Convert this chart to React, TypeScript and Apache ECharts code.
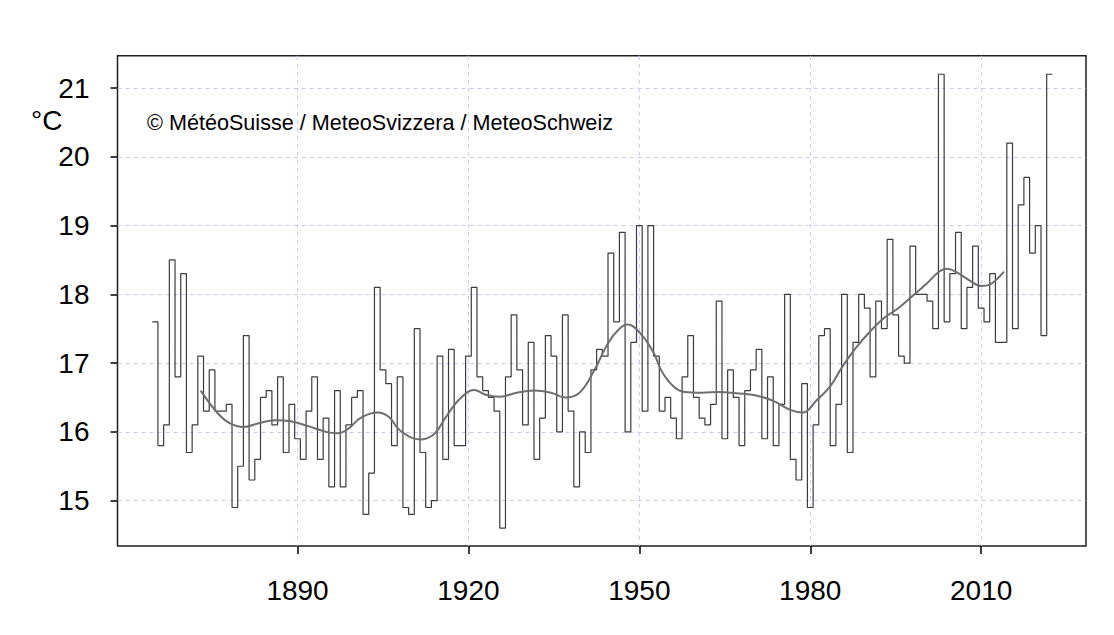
import React, { useEffect, useRef } from "react";
import * as echarts from "echarts";

const FONT = '"Liberation Sans", Arial, Helvetica, sans-serif';

// Annual values, one per year starting at firstYear
const firstYear = 1865;
const tempValues = [
  17.6, 15.8, 16.1, 18.5, 16.8, 18.3, 15.7, 16.1, 17.1, 16.3, // 1865-1874
  16.9, 16.3, 16.3, 16.4, 14.9, 15.5, 17.4, 15.3, 15.6, 16.5, // 1875-1884
  16.6, 16.1, 16.8, 15.7, 16.4, 15.9, 15.6, 16.3, 16.8, 15.6, // 1885-1894
  16.2, 15.2, 16.6, 15.2, 16.1, 16.5, 16.6, 14.8, 15.4, 18.1, // 1895-1904
  16.9, 16.7, 15.8, 16.8, 14.9, 14.8, 17.5, 15.7, 14.9, 15.0, // 1905-1914
  17.1, 15.6, 17.2, 15.8, 15.8, 17.1, 18.1, 16.8, 16.6, 16.5, // 1915-1924
  16.3, 14.6, 16.8, 17.7, 16.9, 16.1, 17.3, 15.6, 16.2, 17.4, // 1925-1934
  17.1, 16.0, 17.7, 16.3, 15.2, 16.0, 15.7, 16.9, 17.2, 17.1, // 1935-1944
  18.6, 17.6, 18.9, 16.0, 17.3, 19.0, 16.3, 19.0, 17.1, 16.3, // 1945-1954
  16.5, 16.2, 15.9, 16.8, 17.4, 16.5, 16.2, 16.1, 16.4, 17.9, // 1955-1964
  15.9, 16.9, 16.5, 15.8, 16.6, 16.9, 17.2, 15.9, 16.8, 15.8, // 1965-1974
  16.4, 18.0, 15.6, 15.3, 16.7, 14.9, 16.1, 17.4, 17.5, 15.8, // 1975-1984
  16.4, 18.0, 15.7, 17.3, 18.0, 17.8, 16.8, 17.9, 17.5, 18.8, // 1985-1994
  17.7, 17.1, 17.0, 18.7, 18.0, 18.0, 17.9, 17.5, 21.2, 17.6, // 1995-2004
  18.3, 18.9, 17.5, 18.1, 18.7, 17.8, 17.6, 18.3, 17.3, 17.3, // 2005-2014
  20.2, 17.5, 19.3, 19.7, 18.6, 19.0, 17.4, 21.2,             // 2015-2022
];

// Smoothed curve
const smoothYears = [
  1873, 1876, 1878, 1880.5, 1883, 1886, 1889, 1892, 1895, 1897, 1899, 1901,
  1904, 1906, 1908, 1911.5, 1914, 1916, 1918.5, 1921, 1923, 1925.5, 1928.5,
  1931.5, 1934.5, 1937, 1939.5, 1942, 1944.5, 1946.5, 1948, 1950.5, 1952.5,
  1954, 1956, 1958, 1961, 1964, 1967, 1970.5, 1973.5, 1976.5, 1978.7, 1981,
  1983.5, 1985.5, 1988, 1990.5, 1993, 1995.5, 1998, 2000.5, 2002.5, 2004,
  2005.5, 2008, 2010, 2011.5, 2013, 2014,
];
const smoothValues = [
  16.6, 16.27, 16.13, 16.07, 16.12, 16.17, 16.15, 16.08, 16.0, 15.98, 16.05, 16.2,
  16.28, 16.22, 16.02, 15.89, 15.97, 16.21, 16.48, 16.61, 16.54, 16.51, 16.57,
  16.6, 16.57, 16.5, 16.57, 16.88, 17.29, 17.5, 17.56, 17.4, 17.15,
  16.87, 16.66, 16.58, 16.57, 16.58, 16.56, 16.53, 16.45, 16.32, 16.28, 16.45,
  16.66, 16.93, 17.22, 17.46, 17.66, 17.8, 17.98, 18.16, 18.32, 18.37,
  18.33, 18.2, 18.12, 18.14, 18.24, 18.33,
];

const xTicks = [1890, 1920, 1950, 1980, 2010];
const yTicks = [15, 16, 17, 18, 19, 20, 21];
const unitLabel = "°C";
const copyrightText = "© MétéoSuisse / MeteoSvizzera / MeteoSchweiz";

export default function App() {
  const ref = useRef<HTMLDivElement>(null);

  useEffect(() => {
    const chart = echarts.init(ref.current!, null, { renderer: "svg" });

    const stepData: number[][] = tempValues.map((v, i) => [firstYear + i - 0.5, v]);
    const lastIdx = tempValues.length - 1;
    stepData.push([firstYear + lastIdx + 0.5, tempValues[lastIdx]]);

    const smoothData = smoothYears.map((y, i) => [y, smoothValues[i]]);

    const gridLine = { show: true, lineStyle: { color: "#cacaf6", type: [4, 4], width: 1 } };

    chart.setOption({
      animation: false,
      backgroundColor: "#ffffff",
      grid: {
        left: 117.5,
        right: 28,
        top: 55.7,
        bottom: 89,
        show: true,
        borderColor: "#1e1e1e",
        borderWidth: 1.5,
        backgroundColor: "transparent",
      },
      xAxis: {
        type: "value",
        min: 1858.4,
        max: 2028.4,
        axisLine: { show: false, onZero: false },
        axisTick: {
          show: true,
          customValues: xTicks,
          length: 8,
          lineStyle: { color: "#000", width: 1.5 },
        },
        axisLabel: {
          customValues: xTicks,
          fontSize: 28,
          color: "#000",
          margin: 30,
          fontFamily: FONT,
          formatter: (v: number) => String(v),
        },
        splitLine: gridLine,
      },
      yAxis: {
        type: "value",
        min: 14.34,
        max: 21.47,
        axisLine: { show: false, onZero: false },
        axisTick: {
          show: true,
          customValues: yTicks,
          length: 7,
          lineStyle: { color: "#000", width: 1.5 },
        },
        axisLabel: {
          customValues: yTicks,
          fontSize: 28,
          color: "#000",
          margin: 28,
          fontFamily: FONT,
          formatter: (v: number) => String(v),
        },
        splitLine: gridLine,
      },
      graphic: [
        {
          type: "text",
          left: 31,
          top: 106,
          style: { text: unitLabel, fontSize: 28, fill: "#000", fontFamily: FONT },
        },
        {
          type: "text",
          left: 147,
          top: 111,
          style: { text: copyrightText, fontSize: 21.6, fill: "#000", fontFamily: FONT },
        },
      ],
      series: [
        {
          type: "line",
          data: stepData,
          step: "end",
          showSymbol: false,
          lineStyle: { color: "#3c3c3c", width: 1.2 },
          z: 2,
        },
        {
          type: "line",
          data: smoothData,
          smooth: 0.4,
          showSymbol: false,
          lineStyle: { color: "#6e6e6e", width: 2 },
          z: 3,
        },
      ],
    });

    return () => chart.dispose();
  }, []);

  return (
    <div
      ref={ref}
      style={{ position: "fixed", left: 0, top: 0, width: 1114, height: 635, background: "#fff" }}
    />
  );
}
